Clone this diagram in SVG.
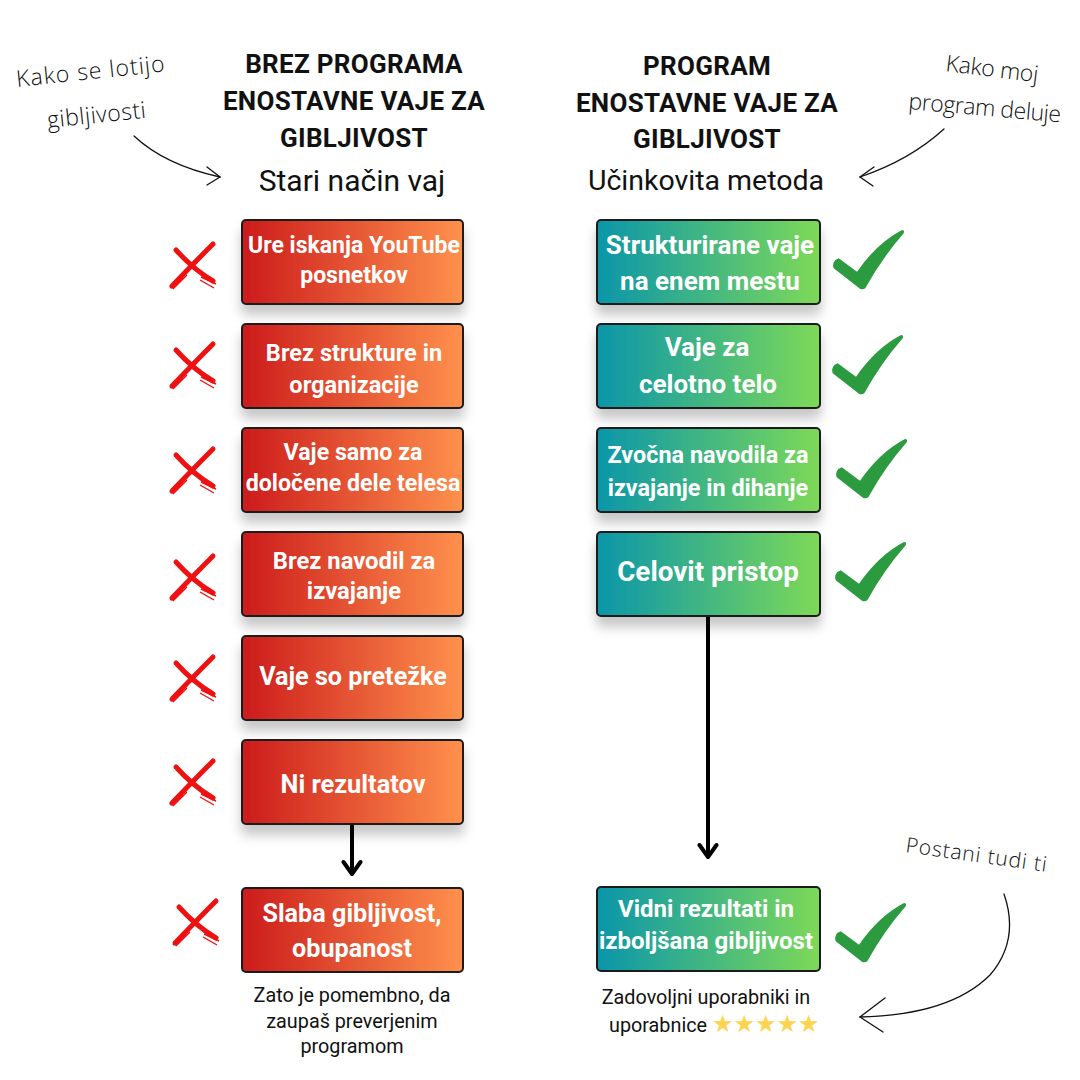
<svg xmlns="http://www.w3.org/2000/svg" width="1080" height="1080" viewBox="0 0 1080 1080">
<defs>
<linearGradient id="gRed" x1="0" y1="0" x2="1" y2="0">
<stop offset="0" stop-color="#cc1b1b"/>
<stop offset="1" stop-color="#ff914d"/>
</linearGradient>
<linearGradient id="gGreen" x1="0" y1="0" x2="1" y2="0">
<stop offset="0" stop-color="#0a96aa"/>
<stop offset="1" stop-color="#7ed957"/>
</linearGradient>
<filter id="sh" x="-20%" y="-20%" width="140%" height="160%">
<feDropShadow dx="0" dy="10" stdDeviation="6" flood-color="#000" flood-opacity="0.22"/>
</filter>
<marker id="chev" markerUnits="userSpaceOnUse" markerWidth="22" markerHeight="22" viewBox="0 0 22 22" refX="17" refY="11" orient="auto">
<path d="M5,2.5 L17,11 L5,19.5" fill="none" stroke="#000" stroke-width="4" stroke-linecap="round" stroke-linejoin="round"/>
</marker>
<g id="xmark">
<path d="M43,1 Q26,18 2,43" fill="none" stroke="#ee1111" stroke-width="5" stroke-linecap="round"/>
<path d="M15,31 L0,45 M13,35 L3,46 M17,32 L5,44" fill="none" stroke="#ee1111" stroke-width="1.4"/>
<path d="M6,7 Q23,26 43,38" fill="none" stroke="#ee1111" stroke-width="5" stroke-linecap="round"/>
<path d="M31,34 L46,41 M30,37 L44,45 M33,33 L45,38" fill="none" stroke="#ee1111" stroke-width="1.4"/>
</g>
<path id="check" d="M6.7,30.3 L25,43.7 Q45,15 70,2 Q73,2 71.7,5.3 Q50,30 33.3,60.3 Q31,62 28.3,61 L1.7,40.3 Q0,36 3.3,32 Z" fill="#2c9a3f"/>
</defs>
<style>
.hd{font-family:Roboto,"Liberation Sans",sans-serif;font-weight:700;font-size:26px;letter-spacing:0.3px;fill:#111;text-anchor:middle}
.sub{font-family:Roboto,"Liberation Sans",sans-serif;font-weight:400;fill:#111;text-anchor:middle}
.bt{font-family:Roboto,"Liberation Sans",sans-serif;font-weight:700;fill:#fff;text-anchor:middle}
.nt{font-family:Roboto,"Liberation Sans",sans-serif;font-weight:400;font-size:19.8px;fill:#111}
.hw{font-family:"Open Sans","Noto Sans",sans-serif;font-weight:300;fill:#111}
.red{fill:url(#gRed);stroke:#1b1b1b;stroke-width:2}
.grn{fill:url(#gGreen);stroke:#1b1b1b;stroke-width:2}
.ann{fill:none;stroke:#111;stroke-width:1.3;stroke-linecap:round}
.conn{fill:none;stroke:#000;stroke-width:4}
</style>
<rect width="1080" height="1080" fill="#fff"/>

<g id="header-left">
<text class="hd" x="354" y="73">BREZ PROGRAMA</text>
<text class="hd" x="354" y="110">ENOSTAVNE VAJE ZA</text>
<text class="hd" x="354" y="147">GIBLJIVOST</text>
<text class="sub" x="352" y="191" font-size="30">Stari način vaj</text>
</g>
<g id="header-right">
<text class="hd" x="707" y="75">PROGRAM</text>
<text class="hd" x="707" y="112">ENOSTAVNE VAJE ZA</text>
<text class="hd" x="707" y="148">GIBLJIVOST</text>
<text class="sub" x="706" y="190" font-size="28.5">Učinkovita metoda</text>
</g>

<g id="annotations">
<text class="hw" font-size="23" transform="translate(17 87) rotate(-6)" textLength="149" lengthAdjust="spacing">Kako se lotijo</text>
<text class="hw" font-size="23" transform="translate(48 128) rotate(-6)" textLength="99" lengthAdjust="spacing">gibljivosti</text>
<path class="ann" d="M134,136 Q165,165 220,177"/>
<path class="ann" d="M207,167 L220,177 L207,185"/>
<text class="hw" font-size="23" transform="translate(945 71) rotate(7)" textLength="93" lengthAdjust="spacing">Kako moj</text>
<text class="hw" font-size="23" transform="translate(908 109) rotate(5)" textLength="153" lengthAdjust="spacing">program deluje</text>
<path class="ann" d="M944,129 Q910,160 860,177"/>
<path class="ann" d="M874,167 L860,177 L873,186"/>
<text class="hw" font-size="21" transform="translate(905 852) rotate(8)" textLength="142" lengthAdjust="spacing">Postani tudi ti</text>
<path class="ann" d="M1004,894 Q1020,940 990,975 Q950,1015 860,1017" stroke-width="1.6"/>
<path class="ann" d="M885,998 L860,1017 L883,1032" stroke-width="1.6"/>
</g>

<g id="connectors">
<path class="conn" d="M352,824 L352,874" marker-end="url(#chev)"/>
<path class="conn" d="M708,616 L708,857" marker-end="url(#chev)"/>
</g>

<g id="l1">
<rect class="red" x="242" y="220" width="221" height="84" rx="4" filter="url(#sh)"/>
<text class="bt" font-size="23"><tspan x="354" y="253">Ure iskanja YouTube</tspan><tspan x="354" y="283">posnetkov</tspan></text>
<use href="#xmark" x="170" y="243"/>
</g>
<g id="l2">
<rect class="red" x="242" y="324" width="221" height="84" rx="4" filter="url(#sh)"/>
<text class="bt" font-size="23.6"><tspan x="354" y="361">Brez strukture in</tspan><tspan x="354" y="393">organizacije</tspan></text>
<use href="#xmark" x="170" y="343"/>
</g>
<g id="l3">
<rect class="red" x="242" y="428" width="221" height="84" rx="4" filter="url(#sh)"/>
<text class="bt" font-size="23.2"><tspan x="353" y="460">Vaje samo za</tspan><tspan x="353" y="491">določene dele telesa</tspan></text>
<use href="#xmark" x="170" y="448"/>
</g>
<g id="l4">
<rect class="red" x="242" y="532" width="221" height="84" rx="4" filter="url(#sh)"/>
<text class="bt" font-size="23.8"><tspan x="354" y="569">Brez navodil za</tspan><tspan x="354" y="599">izvajanje</tspan></text>
<use href="#xmark" x="170" y="555"/>
</g>
<g id="l5">
<rect class="red" x="242" y="636" width="221" height="84" rx="4" filter="url(#sh)"/>
<text class="bt" font-size="25.2" x="353" y="685">Vaje so pretežke</text>
<use href="#xmark" x="170" y="656"/>
</g>
<g id="l6">
<rect class="red" x="242" y="740" width="221" height="84" rx="4" filter="url(#sh)"/>
<text class="bt" font-size="25.4" x="353" y="793">Ni rezultatov</text>
<use href="#xmark" x="170" y="760"/>
</g>
<g id="l7">
<rect class="red" x="242" y="888" width="221" height="84" rx="4"/>
<text class="bt" font-size="25.2"><tspan x="352" y="922">Slaba gibljivost,</tspan><tspan x="352" y="957">obupanost</tspan></text>
<use href="#xmark" x="173" y="900"/>
<text class="nt" style="text-anchor:middle"><tspan x="352" y="1002">Zato je pomembno, da</tspan><tspan x="352" y="1028">zaupaš preverjenim</tspan><tspan x="352" y="1053">programom</tspan></text>
</g>

<g id="r1">
<rect class="grn" x="597" y="220" width="223" height="84" rx="4" filter="url(#sh)"/>
<text class="bt" font-size="26"><tspan x="710" y="254">Strukturirane vaje</tspan><tspan x="710" y="290">na enem mestu</tspan></text>
<use href="#check" x="832" y="228"/>
</g>
<g id="r2">
<rect class="grn" x="597" y="324" width="223" height="84" rx="4" filter="url(#sh)"/>
<text class="bt" font-size="26"><tspan x="707" y="356">Vaje za</tspan><tspan x="708" y="393">celotno telo</tspan></text>
<use href="#check" x="831" y="333"/>
</g>
<g id="r3">
<rect class="grn" x="597" y="428" width="223" height="84" rx="4" filter="url(#sh)"/>
<text class="bt" font-size="23.4"><tspan x="708" y="463">Zvočna navodila za</tspan><tspan x="708" y="496">izvajanje in dihanje</tspan></text>
<use href="#check" x="835" y="437"/>
</g>
<g id="r4">
<rect class="grn" x="597" y="532" width="223" height="84" rx="4" filter="url(#sh)"/>
<text class="bt" font-size="27.8" x="708" y="581">Celovit pristop</text>
<use href="#check" x="834" y="540"/>
</g>
<g id="r5">
<rect class="grn" x="597" y="887" width="223" height="84" rx="4"/>
<text class="bt" font-size="24"><tspan x="706" y="917">Vidni rezultati in</tspan><tspan x="706" y="949">izboljšana gibljivost</tspan></text>
<use href="#check" x="834" y="901"/>
<text class="nt" style="text-anchor:middle" x="706" y="1004">Zadovoljni uporabniki in</text>
<text class="nt" style="text-anchor:start" x="609" y="1032">uporabnice <tspan font-family="DejaVu Sans,sans-serif" font-size="24" fill="#fdd34f">★★★★★</tspan></text>
</g>
</svg>
